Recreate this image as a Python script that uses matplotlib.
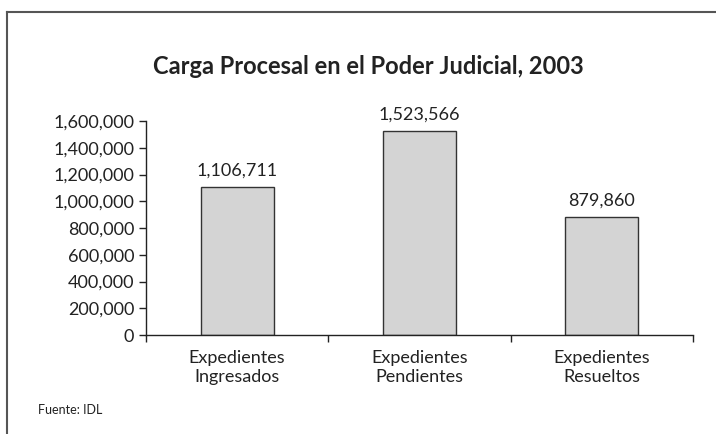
import matplotlib.pyplot as plt
from matplotlib.lines import Line2D
from matplotlib.ticker import FuncFormatter

categories = ["Expedientes\nIngresados", "Expedientes\nPendientes", "Expedientes\nResueltos"]
values = [1106711, 1523566, 879860]
y_ticks = [0, 200000, 400000, 600000, 800000, 1000000, 1200000, 1400000, 1600000]

plt.rcParams['font.family'] = ['Lato', 'DejaVu Sans']

fig = plt.figure(figsize=(7.16, 4.34), dpi=100)
ax = fig.add_axes([146 / 716, 1 - 335 / 434, (693 - 146) / 716, (335 - 121) / 434])

x = list(range(len(categories)))
ax.bar(x, values, width=0.4, color='#d4d4d4', edgecolor='#333333', linewidth=1.0)

for xi, v in zip(x, values):
    ax.annotate(f"{v:,}", (xi, v), xytext=(0, 6), textcoords='offset points',
                ha='center', va='bottom', fontsize=13, color='#222222')

ax.set_xlim(-0.5, 2.5)
ax.set_ylim(0, 1600000)
ax.set_yticks(y_ticks)
ax.yaxis.set_major_formatter(FuncFormatter(lambda v, p: f"{int(v):,}"))
ax.set_xticks(x)
ax.set_xticklabels(categories, fontsize=13, color='#222222', linespacing=1.2)
ax.set_xticks([-0.5, 0.5, 1.5, 2.5], minor=True)
ax.tick_params(axis='x', which='major', length=0, pad=11)
ax.tick_params(axis='x', which='minor', length=5, width=1, direction='out', color='#222222')
ax.tick_params(axis='y', length=5, width=1, labelsize=13, labelcolor='#222222', color='#222222')

for s in ['top', 'right']:
    ax.spines[s].set_visible(False)
for s in ['left', 'bottom']:
    ax.spines[s].set_color('#222222')
    ax.spines[s].set_linewidth(1.0)

fig.text(368 / 716, 1 - 66 / 434, "Carga Procesal en el Poder Judicial, 2003",
         ha='center', va='center', fontsize=17, fontweight='bold', color='#222222')
fig.text(38 / 716, 1 - 410 / 434, "Fuente: IDL", ha='left', va='center',
         fontsize=9, color='#222222')

# outer frame (left and top edges only visible)
fig.add_artist(Line2D([7 / 716, 7 / 716], [0, 1 - 12 / 434], transform=fig.transFigure,
                      color='#555555', linewidth=1.5))
fig.add_artist(Line2D([7 / 716, 1], [1 - 12 / 434, 1 - 12 / 434], transform=fig.transFigure,
                      color='#555555', linewidth=1.5))

fig.savefig('out.png', dpi=100, facecolor='white')
